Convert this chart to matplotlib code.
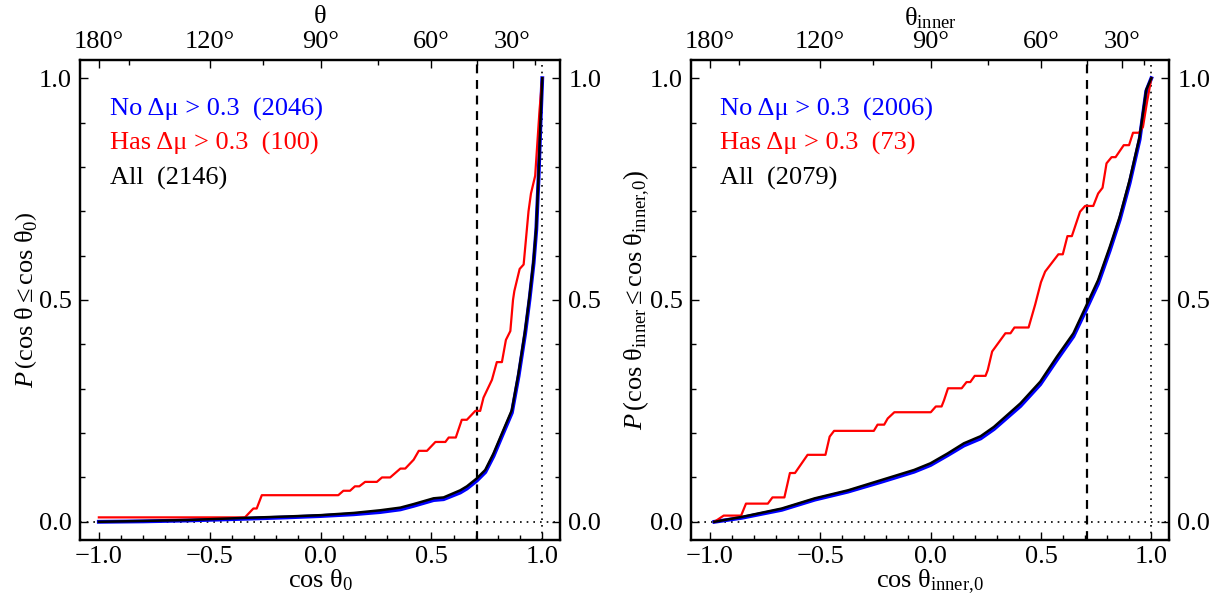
import numpy as np
import matplotlib
matplotlib.use("Agg")
import matplotlib.pyplot as plt

plt.rcParams['font.family'] = ['Liberation Serif', 'DejaVu Serif']
plt.rcParams['mathtext.fontset'] = 'custom'
plt.rcParams['mathtext.rm'] = 'Liberation Serif'
plt.rcParams['mathtext.it'] = 'Liberation Serif:italic'
plt.rcParams['mathtext.bf'] = 'Liberation Serif:bold'

# ---------------- data: left panel (cos theta_0) ----------------
left_all_x = [-1.0, -0.8, -0.6, -0.333, -0.15, 0.0, 0.15, 0.269, 0.36, 0.42, 0.51, 0.555,
              0.63, 0.66, 0.705, 0.743, 0.78, 0.818, 0.863, 0.893, 0.923, 0.943, 0.961,
              0.973, 0.983, 0.991, 1.0]
left_all_y = [0.0, 0.002, 0.004, 0.009, 0.012, 0.015, 0.02, 0.026, 0.032, 0.040, 0.053, 0.055,
              0.071, 0.080, 0.098, 0.117, 0.154, 0.199, 0.252, 0.335, 0.432, 0.51, 0.59,
              0.665, 0.778, 0.891, 1.0]
left_no_x = [-1.0, -0.8, -0.6, -0.333, -0.15, 0.0, 0.15, 0.269, 0.36, 0.42, 0.51, 0.555,
             0.63, 0.66, 0.705, 0.743, 0.78, 0.818, 0.863, 0.893, 0.923, 0.943, 0.961,
             0.973, 0.983, 0.991, 1.0]
left_no_y = [0.0, 0.001, 0.003, 0.007, 0.010, 0.013, 0.017, 0.022, 0.028, 0.036, 0.049, 0.051,
             0.066, 0.075, 0.093, 0.112, 0.148, 0.193, 0.246, 0.328, 0.425, 0.503, 0.583,
             0.658, 0.772, 0.886, 1.0]
left_has_x = [-1.0, -0.341, -0.303, -0.288, -0.265, 0.080, 0.103, 0.133, 0.155, 0.175, 0.201,
              0.254, 0.277, 0.314, 0.36, 0.382, 0.42, 0.443, 0.48, 0.518, 0.563, 0.578, 0.61,
              0.637, 0.660, 0.698, 0.720, 0.735, 0.773, 0.795, 0.818, 0.836, 0.856, 0.868,
              0.874, 0.898, 0.916, 0.938, 0.949, 0.968, 0.988, 1.0]
left_has_y = [0.01, 0.01, 0.03, 0.03, 0.06, 0.06, 0.07, 0.07, 0.08, 0.08, 0.09,
              0.09, 0.10, 0.10, 0.12, 0.12, 0.14, 0.16, 0.16, 0.18, 0.18, 0.19, 0.19,
              0.23, 0.23, 0.25, 0.25, 0.28, 0.32, 0.36, 0.36, 0.41, 0.43, 0.50,
              0.52, 0.57, 0.58, 0.70, 0.74, 0.78, 0.93, 1.0]

# ---------------- data: right panel (cos theta_inner,0) ----------------
right_all_x = [-0.979, -0.855, -0.674, -0.524, -0.374, -0.224, -0.074, 0.0, 0.077, 0.151,
               0.227, 0.287, 0.407, 0.497, 0.572, 0.647, 0.707, 0.759, 0.812, 0.857, 0.902,
               0.947, 0.977, 1.0]
right_all_y = [0.0, 0.011, 0.030, 0.053, 0.071, 0.094, 0.117, 0.132, 0.154, 0.177,
               0.193, 0.214, 0.267, 0.316, 0.372, 0.425, 0.489, 0.545, 0.62, 0.688, 0.771,
               0.868, 0.974, 1.0]
right_no_x = [-0.979, -0.855, -0.674, -0.524, -0.374, -0.224, -0.074, 0.0, 0.077, 0.151,
              0.227, 0.287, 0.407, 0.497, 0.572, 0.647, 0.707, 0.759, 0.812, 0.857, 0.902,
              0.947, 0.977, 1.0]
right_no_y = [0.0, 0.009, 0.027, 0.050, 0.068, 0.090, 0.113, 0.128, 0.150, 0.172,
              0.188, 0.209, 0.261, 0.310, 0.365, 0.418, 0.481, 0.537, 0.612, 0.681, 0.764,
              0.862, 0.971, 1.0]
right_has_x = [-0.979, -0.937, -0.858, -0.836, -0.737, -0.716, -0.662, -0.637, -0.614, -0.557,
               -0.476, -0.457, -0.437, -0.257, -0.24, -0.21, -0.194, -0.164, 0.001, 0.024,
               0.05, 0.061, 0.079, 0.141, 0.163, 0.18, 0.2, 0.249, 0.259, 0.279, 0.339,
               0.362, 0.38, 0.444, 0.474, 0.50, 0.519, 0.579, 0.599, 0.62, 0.64, 0.677,
               0.70, 0.737, 0.759, 0.779, 0.797, 0.82, 0.838, 0.875, 0.899, 0.917, 0.944,
               0.962, 0.980, 1.0]
right_has_y = [0.0, 0.014, 0.014, 0.041, 0.041, 0.055, 0.055, 0.110, 0.110, 0.151,
               0.151, 0.192, 0.205, 0.205, 0.219, 0.219, 0.233, 0.247, 0.247, 0.260,
               0.260, 0.274, 0.301, 0.301, 0.315, 0.315, 0.329, 0.329, 0.342, 0.384, 0.425,
               0.425, 0.438, 0.438, 0.49, 0.54, 0.564, 0.603, 0.603, 0.644, 0.644, 0.699,
               0.712, 0.712, 0.740, 0.753, 0.808, 0.822, 0.822, 0.849, 0.849, 0.877, 0.877,
               0.890, 0.945, 1.0]

legend_left = ["No \u0394\u03bc > 0.3  (2046)", "Has \u0394\u03bc > 0.3  (100)", "All  (2146)"]
legend_right = ["No \u0394\u03bc > 0.3  (2006)", "Has \u0394\u03bc > 0.3  (73)", "All  (2079)"]

top_major_deg = [180, 120, 90, 60, 30]
top_minor_deg = [150, 105, 75, 45, 15]
cut_deg = 45

FS = 19
fig = plt.figure(figsize=(12.14, 5.99), dpi=100)
W, H = 1214, 599
ax1 = fig.add_axes([80 / W, (H - 540) / H, 480 / W, 480 / H])
ax2 = fig.add_axes([691 / W, (H - 540) / H, 478 / W, 480 / H])

fmt = matplotlib.ticker.FuncFormatter(lambda v, p: f"{v:.1f}".replace('-', '\u2212'))

panels = [
    (ax1, left_no_x, left_no_y, left_has_x, left_has_y, left_all_x, left_all_y, legend_left,
     r'$\mathrm{cos\ \theta_0}$', r'$\mathrm{\theta}$',
     r'$P\,\left(\mathrm{cos\ \theta \leq cos\ \theta_0}\right)$', 0.0625, 1.090, 0),
    (ax2, right_no_x, right_no_y, right_has_x, right_has_y, right_all_x, right_all_y, legend_right,
     r'$\mathrm{cos\ \theta_{inner,\!0}}$', r'$\mathrm{\theta_{inner}}$',
     r'$P\,\left(\mathrm{cos\ \theta_{inner} \leq cos\ \theta_{inner,\!0}}\right)$', 0.0607,
     1.088, -2),
]

for (ax, nx, ny, hx, hy, axx, ayy, leg, xl, tl, yl, tx, ty, ylpad) in panels:
    ax.set_xlim(-1.085, 1.08)
    ax.set_ylim(-0.041, 1.041)
    ax.axhline(0.0, color='black', ls=(0, (1, 3)), lw=1.2)
    ax.axvline(1.0, color='black', ls=(0, (1, 3)), lw=1.2)
    ax.axvline(np.cos(np.radians(cut_deg)), color='black', ls=(0, (4, 3)), lw=1.6)
    ax.plot(nx, ny, color='blue', lw=2.8, solid_joinstyle='round')
    ax.plot(hx, hy, color='red', lw=1.6)
    ax.plot(axx, ayy, color='black', lw=1.8)

    ax.set_xticks([-1.0, -0.5, 0.0, 0.5, 1.0])
    ax.set_xticks(np.arange(-1.0, 1.01, 0.1), minor=True)
    ax.set_yticks([0.0, 0.5, 1.0])
    ax.set_yticks(np.arange(0.0, 1.01, 0.1), minor=True)
    ax.xaxis.set_major_formatter(fmt)
    ax.yaxis.set_major_formatter(fmt)
    ax.tick_params(which='both', direction='in', right=True, labelright=True,
                   labelsize=FS, width=1.0)
    ax.tick_params(which='major', length=6, pad=6)
    ax.tick_params(axis='x', which='major', pad=4)
    ax.tick_params(which='minor', length=3.5)
    ax.tick_params(axis='x', which='both', top=False)
    for sp in ax.spines.values():
        sp.set_linewidth(1.6)
    ax.set_xlabel(xl, fontsize=FS, labelpad=0)
    ax.set_ylabel(yl, fontsize=FS, labelpad=ylpad)

    colors = ['blue', 'red', 'black']
    ys = [0.896, 0.827, 0.754]
    for t, c, yy in zip(leg, colors, ys):
        ax.text(tx, yy, t, color=c, fontsize=FS, transform=ax.transAxes,
                ha='left', va='center')

    at = ax.twiny()
    at.set_xlim(ax.get_xlim())
    at.set_xticks(np.cos(np.radians(top_major_deg)))
    at.set_xticklabels([f"{d}\u00b0" for d in top_major_deg])
    at.set_xticks(np.cos(np.radians(top_minor_deg)), minor=True)
    at.tick_params(which='both', direction='in', labelsize=FS, width=1.0)
    at.tick_params(which='major', length=6, pad=5)
    at.tick_params(which='minor', length=3.5)
    for sp in at.spines.values():
        sp.set_linewidth(1.6)
    ax.text(0.5, ty, tl, fontsize=FS, transform=ax.transAxes, ha='center', va='center')

fig.savefig('out.png', dpi=100)
